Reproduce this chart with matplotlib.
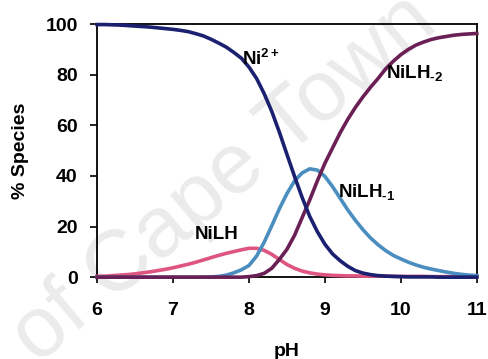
import matplotlib
matplotlib.use("Agg")
import matplotlib.pyplot as plt

# values, pH step 0.1
ph = [6.0, 6.1, 6.2, 6.3, 6.4, 6.5, 6.6, 6.7, 6.8, 6.9,
      7.0, 7.1, 7.2, 7.3, 7.4, 7.5, 7.6, 7.7, 7.8, 7.9,
      8.0, 8.1, 8.2, 8.3, 8.4, 8.5, 8.6, 8.7, 8.8, 8.9,
      9.0, 9.1, 9.2, 9.3, 9.4, 9.5, 9.6, 9.7, 9.8, 9.9,
      10.0, 10.1, 10.2, 10.3, 10.4, 10.5, 10.6, 10.7, 10.8, 10.9,
      11.0]

ni = [99.8, 99.8, 99.7, 99.6, 99.4, 99.2, 99.0, 98.8, 98.5, 98.2,
      97.9, 97.5, 97.0, 96.2, 95.3, 94.0, 92.5, 90.9, 88.8, 86.5,
      83.0, 78.5, 72.5, 65.5, 57.3, 48.5, 39.8, 31.5, 24.0, 18.0,
      13.0, 9.2, 6.5, 4.3, 2.6, 1.6, 1.0, 0.6, 0.4, 0.3,
      0.2, 0.1, 0.1, 0.1, 0.1, 0.0, 0.0, 0.0, 0.0, 0.0,
      0.0]

nilh = [0.3, 0.4, 0.6, 0.8, 1.0, 1.3, 1.7, 2.1, 2.6, 3.1,
        3.7, 4.4, 5.1, 5.9, 6.8, 7.7, 8.6, 9.4, 10.1, 10.8,
        11.4, 11.4, 10.6, 9.0, 7.0, 5.0, 3.5, 2.4, 1.7, 1.2,
        0.9, 0.7, 0.6, 0.5, 0.5, 0.4, 0.4, 0.4, 0.4, 0.3,
        0.3, 0.3, 0.3, 0.3, 0.2, 0.2, 0.2, 0.2, 0.1, 0.1,
        0.1]

nilh_1 = [0.0, 0.0, 0.0, 0.0, 0.0, 0.0, 0.0, 0.0, 0.0, 0.0,
          0.0, 0.0, 0.0, 0.0, 0.0, 0.1, 0.3, 0.8, 1.7, 2.9,
          4.6, 8.3, 13.8, 20.3, 27.0, 33.0, 38.0, 41.2, 42.8, 42.3,
          39.8, 35.8, 31.2, 26.6, 22.5, 18.8, 15.5, 12.8, 10.5, 8.6,
          7.2, 5.9, 4.8, 3.9, 3.2, 2.6, 2.0, 1.5, 1.1, 0.8,
          0.6]

nilh_2 = [0.0, 0.0, 0.0, 0.0, 0.0, 0.0, 0.0, 0.0, 0.0, 0.0,
          0.0, 0.0, 0.0, 0.0, 0.0, 0.0, 0.0, 0.0, 0.0, 0.0,
          0.2, 0.6, 1.5, 3.5, 7.0, 11.0, 16.5, 23.5, 30.5, 38.0,
          45.0, 51.0, 57.0, 62.3, 67.0, 71.2, 75.0, 78.5, 82.3, 85.3,
          87.9, 90.0, 91.7, 92.9, 93.9, 94.6, 95.1, 95.6, 95.9, 96.1,
          96.3]

NAVY = "#1b2070"
LBLUE = "#4a8ec0"
PINK = "#de5580"
PURPLE = "#6a1f55"

plt.rcParams["font.family"] = "Liberation Sans"
plt.rcParams["font.weight"] = "bold"
plt.rcParams["mathtext.fontset"] = "custom"
plt.rcParams["mathtext.rm"] = "Liberation Sans:bold"
plt.rcParams["mathtext.bf"] = "Liberation Sans:bold"

fig = plt.figure(figsize=(4.88, 3.59), dpi=100)
# faint scan watermark
fig.text(0.46, 0.50, "of Cape Town", rotation=40, fontsize=62,
         color="#ebebeb", ha="center", va="center", fontweight="normal",
         zorder=-1)

ax = fig.add_axes([0.199, 0.228, 0.778, 0.705])
ax.set_facecolor("none")

lw = 2.6
ax.plot(ph, nilh, color=PINK, lw=lw, clip_on=False, zorder=3)
ax.plot(ph, nilh_1, color=LBLUE, lw=lw, clip_on=False, zorder=4)
ax.plot(ph, nilh_2, color=PURPLE, lw=lw, clip_on=False, zorder=5)
ax.plot(ph, ni, color=NAVY, lw=lw, clip_on=False, zorder=6)

ax.set_xlim(6, 11)
ax.set_ylim(0, 100)
ax.set_xticks([6, 7, 8, 9, 10, 11])
ax.set_yticks([0, 20, 40, 60, 80, 100])
ax.tick_params(axis="x", direction="out", length=4, width=1.2, pad=14,
               labelsize=14)
ax.tick_params(axis="y", direction="out", length=5, width=1.2, pad=9,
               labelsize=14)
for sp in ax.spines.values():
    sp.set_linewidth(1.3)

ax.set_xlabel("pH", fontsize=14, fontweight="bold", labelpad=17)
ax.set_ylabel("% Species", fontsize=14, fontweight="bold", labelpad=12)

fs = 13.5
ax.text(7.91, 83.7, r"$\mathrm{Ni^{2+}}$", fontsize=fs, ha="left",
        va="baseline", zorder=7)
ax.text(9.81, 78.5, r"$\mathrm{NiLH_{\text{-}2}}$", fontsize=fs,
        ha="left", va="baseline", zorder=7)
ax.text(9.175, 31.5, r"$\mathrm{NiLH_{\text{-}1}}$", fontsize=fs,
        ha="left", va="baseline", zorder=7)
ax.text(7.58, 14.9, "NiLH", fontsize=fs, ha="center", va="baseline",
        zorder=7)

fig.savefig("out.png", dpi=100)
